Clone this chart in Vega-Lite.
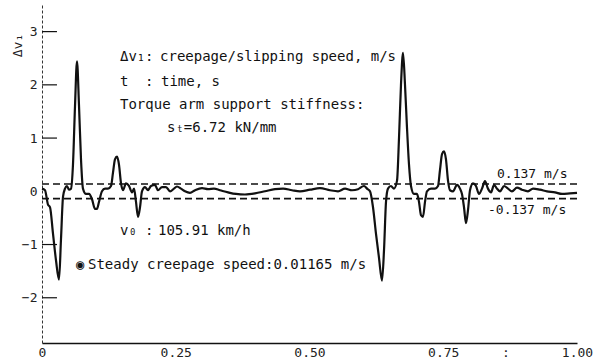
{
  "$schema": "https://vega.github.io/schema/vega-lite/v6.json",
  "autosize": {"type": "none"},
  "padding": {"left": 42, "top": 5, "right": 17, "bottom": 21},
  "width": 535,
  "height": 338,
  "background": "white",
  "config": {"view": {"stroke": null}},
  "datasets": {
    "curve": [
      {"t": 0, "dv": 0.05}, {"t": 0.0056, "dv": 0.02}, {"t": 0.0112, "dv": -0.25}, {"t": 0.015, "dv": -0.3},
      {"t": 0.0206, "dv": -0.8}, {"t": 0.0262, "dv": -1.3}, {"t": 0.0318, "dv": -1.66}, {"t": 0.0355, "dv": -0.9},
      {"t": 0.0393, "dv": -0.1}, {"t": 0.043, "dv": 0.05}, {"t": 0.0467, "dv": 0.1}, {"t": 0.0505, "dv": 0.03},
      {"t": 0.0542, "dv": 0.05}, {"t": 0.0579, "dv": 0.5}, {"t": 0.0617, "dv": 1.6}, {"t": 0.0654, "dv": 2.44},
      {"t": 0.0692, "dv": 1.6}, {"t": 0.0729, "dv": 0.6}, {"t": 0.0766, "dv": 0.05}, {"t": 0.0822, "dv": -0.05},
      {"t": 0.0879, "dv": -0.05}, {"t": 0.0935, "dv": -0.15}, {"t": 0.0991, "dv": -0.33}, {"t": 0.1028, "dv": -0.33},
      {"t": 0.1065, "dv": -0.2}, {"t": 0.1121, "dv": 0.0}, {"t": 0.1178, "dv": 0.05}, {"t": 0.1234, "dv": 0.05},
      {"t": 0.129, "dv": 0.1}, {"t": 0.1327, "dv": 0.35}, {"t": 0.1364, "dv": 0.6}, {"t": 0.1402, "dv": 0.65},
      {"t": 0.1439, "dv": 0.5}, {"t": 0.1477, "dv": 0.15}, {"t": 0.1514, "dv": 0.02}, {"t": 0.157, "dv": 0.15},
      {"t": 0.1626, "dv": 0.1}, {"t": 0.1682, "dv": -0.02}, {"t": 0.172, "dv": 0.05}, {"t": 0.1757, "dv": -0.2},
      {"t": 0.1794, "dv": -0.48}, {"t": 0.1832, "dv": -0.3}, {"t": 0.1869, "dv": 0.0}, {"t": 0.1925, "dv": 0.08},
      {"t": 0.1981, "dv": 0.02}, {"t": 0.2037, "dv": 0.1}, {"t": 0.2112, "dv": 0.12}, {"t": 0.2168, "dv": 0.02},
      {"t": 0.2243, "dv": 0.08}, {"t": 0.2318, "dv": 0.08}, {"t": 0.2393, "dv": 0.0}, {"t": 0.2467, "dv": 0.05},
      {"t": 0.2523, "dv": 0.09}, {"t": 0.2598, "dv": 0.05}, {"t": 0.2673, "dv": 0.0}, {"t": 0.2766, "dv": -0.03},
      {"t": 0.286, "dv": 0.02}, {"t": 0.2991, "dv": 0.06}, {"t": 0.3103, "dv": 0.04}, {"t": 0.3215, "dv": 0.05},
      {"t": 0.3327, "dv": 0.02}, {"t": 0.3477, "dv": -0.02}, {"t": 0.3626, "dv": -0.05}, {"t": 0.3794, "dv": -0.06},
      {"t": 0.3981, "dv": -0.04}, {"t": 0.4168, "dv": 0.0}, {"t": 0.4355, "dv": 0.04}, {"t": 0.4505, "dv": 0.05},
      {"t": 0.4673, "dv": 0.02}, {"t": 0.4822, "dv": 0.0}, {"t": 0.5009, "dv": 0.03}, {"t": 0.5196, "dv": 0.06},
      {"t": 0.5383, "dv": 0.02}, {"t": 0.5533, "dv": 0.0}, {"t": 0.5664, "dv": 0.05}, {"t": 0.5794, "dv": 0.02},
      {"t": 0.5907, "dv": 0.04}, {"t": 0.6019, "dv": 0.1}, {"t": 0.6075, "dv": 0.05}, {"t": 0.6131, "dv": 0.0},
      {"t": 0.6187, "dv": -0.3}, {"t": 0.6243, "dv": -0.8}, {"t": 0.6299, "dv": -1.25}, {"t": 0.6355, "dv": -1.68},
      {"t": 0.6393, "dv": -1.1}, {"t": 0.643, "dv": -0.2}, {"t": 0.6467, "dv": 0.05}, {"t": 0.6523, "dv": 0.1},
      {"t": 0.6579, "dv": 0.05}, {"t": 0.6636, "dv": 0.2}, {"t": 0.6673, "dv": 1.0}, {"t": 0.671, "dv": 2.0},
      {"t": 0.6748, "dv": 2.6}, {"t": 0.6785, "dv": 2.0}, {"t": 0.6822, "dv": 1.2}, {"t": 0.686, "dv": 0.5},
      {"t": 0.6897, "dv": 0.1}, {"t": 0.6953, "dv": -0.05}, {"t": 0.7009, "dv": -0.05}, {"t": 0.7047, "dv": -0.2},
      {"t": 0.7084, "dv": -0.45}, {"t": 0.7121, "dv": -0.48}, {"t": 0.7159, "dv": -0.2}, {"t": 0.7196, "dv": 0.0},
      {"t": 0.7271, "dv": 0.05}, {"t": 0.7346, "dv": 0.05}, {"t": 0.7402, "dv": 0.1}, {"t": 0.7439, "dv": 0.4},
      {"t": 0.7477, "dv": 0.7}, {"t": 0.7514, "dv": 0.75}, {"t": 0.7551, "dv": 0.6}, {"t": 0.7589, "dv": 0.2},
      {"t": 0.7626, "dv": 0.02}, {"t": 0.7682, "dv": 0.0}, {"t": 0.7757, "dv": 0.12}, {"t": 0.7813, "dv": 0.05},
      {"t": 0.785, "dv": -0.05}, {"t": 0.7888, "dv": -0.3}, {"t": 0.7925, "dv": -0.6}, {"t": 0.7963, "dv": -0.35},
      {"t": 0.8, "dv": 0.02}, {"t": 0.8056, "dv": 0.15}, {"t": 0.8112, "dv": 0.1}, {"t": 0.8168, "dv": -0.05},
      {"t": 0.8224, "dv": 0.05}, {"t": 0.828, "dv": 0.19}, {"t": 0.8336, "dv": 0.05}, {"t": 0.8393, "dv": -0.02},
      {"t": 0.8449, "dv": 0.12}, {"t": 0.8505, "dv": 0.05}, {"t": 0.8561, "dv": 0.0}, {"t": 0.8636, "dv": 0.1},
      {"t": 0.871, "dv": 0.05}, {"t": 0.8785, "dv": 0.0}, {"t": 0.8879, "dv": 0.07}, {"t": 0.8972, "dv": 0.03},
      {"t": 0.9084, "dv": 0.0}, {"t": 0.9178, "dv": 0.05}, {"t": 0.9308, "dv": 0.03}, {"t": 0.9439, "dv": 0.0},
      {"t": 0.9589, "dv": -0.02}, {"t": 0.972, "dv": -0.05}, {"t": 0.9869, "dv": -0.04}, {"t": 1.0, "dv": -0.03}
    ],
    "notes": [
      {"x": 0.1458, "y": 2.53, "label": "Δv₁"},
      {"x": 0.1925, "y": 2.53, "label": ":"},
      {"x": 0.2206, "y": 2.53, "label": "creepage/slipping speed, m/s"},
      {"x": 0.1458, "y": 2.06, "label": "t"},
      {"x": 0.1925, "y": 2.06, "label": ":"},
      {"x": 0.2224, "y": 2.06, "label": "time, s"},
      {"x": 0.1458, "y": 1.63, "label": "Torque arm support stiffness:"},
      {"x": 0.2336, "y": 1.195, "label": "sₜ=6.72 kN/mm"},
      {"x": 0.1458, "y": -0.75, "label": "v₀"},
      {"x": 0.1925, "y": -0.75, "label": ":"},
      {"x": 0.2168, "y": -0.75, "label": "105.91 km/h"},
      {"x": 0.0636, "y": -1.38, "label": "◉"},
      {"x": 0.0860, "y": -1.38, "label": "Steady creepage speed:0.01165 m/s"}
    ],
    "bands": [
      {"level": 0.137, "label": "0.137 m/s", "lx": 0.8505, "ly": 0.33},
      {"level": -0.137, "label": "-0.137 m/s", "lx": 0.8336, "ly": -0.35}
    ],
    "yticks": [{"v": -2}, {"v": -1}, {"v": 1}, {"v": 2}, {"v": 3}]
  },
  "layer": [
    {
      "mark": {"type": "rule", "color": "#111", "strokeWidth": 1},
      "encoding": {
        "x": {"datum": 0, "type": "quantitative", "scale": {"domain": [0, 1], "nice": false, "zero": false},
          "axis": {"title": null, "values": [0, 0.25, 0.5, 0.75, 0.866, 1],
            "labelExpr": "datum.value == 0 ? '0' : (datum.value > 0.85 && datum.value < 0.9 ? ':' : format(datum.value, '.2f'))",
            "ticks": false, "grid": false, "domainColor": "#111", "domainWidth": 1.5,
            "labelFont": "DejaVu Sans Mono", "labelFontSize": 13, "labelColor": "#222", "labelPadding": 3, "labelFlush": false}},
        "x2": {"datum": 1.025},
        "y": {"datum": 0, "type": "quantitative", "scale": {"domain": [-2.85, 3.5], "nice": false, "zero": false},
          "axis": {"title": "Δv₁", "values": [-2, -1, 0, 1, 2, 3], "format": "d", "grid": false,
            "domainDash": [3, 2], "domainColor": "#333", "domainWidth": 1,
            "ticks": false, "labelPadding": 5,
            "labelFont": "DejaVu Sans Mono", "labelFontSize": 13, "labelColor": "#222",
            "titleFont": "DejaVu Sans Mono", "titleFontSize": 13, "titleFontWeight": "normal", "titleColor": "#222",
            "titleAngle": -90, "titleX": -25, "titleY": 40, "titleAlign": "center", "titleBaseline": "middle"}}
      }
    },
    {
      "data": {"name": "yticks"},
      "mark": {"type": "rule", "color": "#111", "strokeWidth": 1.2},
      "encoding": {
        "x": {"datum": 0, "type": "quantitative"},
        "x2": {"datum": 0.028},
        "y": {"field": "v", "type": "quantitative"}
      }
    },
    {
      "mark": {"type": "point", "shape": "triangle-right", "filled": true, "color": "#111", "size": 18, "opacity": 1},
      "encoding": {"x": {"datum": 1.028, "type": "quantitative"}, "y": {"datum": 0, "type": "quantitative"}}
    },
    {
      "mark": {"type": "point", "shape": "triangle-up", "filled": true, "color": "#111", "size": 40, "opacity": 1},
      "encoding": {"x": {"datum": 0, "type": "quantitative"}, "y": {"datum": 3.37, "type": "quantitative"}}
    },
    {
      "mark": {"type": "point", "shape": "triangle-down", "filled": true, "color": "#111", "size": 40, "opacity": 1},
      "encoding": {"x": {"datum": 0, "type": "quantitative"}, "y": {"datum": -2.28, "type": "quantitative"}}
    },
    {
      "data": {"name": "bands"},
      "mark": {"type": "rule", "color": "#111", "strokeWidth": 1.6, "strokeDash": [7, 4]},
      "encoding": {
        "x": {"datum": 0, "type": "quantitative"},
        "x2": {"datum": 1.0},
        "y": {"field": "level", "type": "quantitative"}
      }
    },
    {
      "data": {"name": "bands"},
      "mark": {"type": "text", "align": "left", "baseline": "middle", "font": "DejaVu Sans Mono", "fontSize": 13, "color": "#111"},
      "encoding": {
        "x": {"field": "lx", "type": "quantitative"},
        "y": {"field": "ly", "type": "quantitative"},
        "text": {"field": "label"}
      }
    },
    {
      "data": {"name": "curve"},
      "mark": {"type": "line", "color": "#111", "strokeWidth": 2.2, "interpolate": "monotone"},
      "encoding": {
        "x": {"field": "t", "type": "quantitative"},
        "y": {"field": "dv", "type": "quantitative"}
      }
    },
    {
      "data": {"name": "notes"},
      "mark": {"type": "text", "align": "left", "baseline": "middle", "font": "DejaVu Sans Mono", "fontSize": 14, "color": "#111"},
      "encoding": {
        "x": {"field": "x", "type": "quantitative"},
        "y": {"field": "y", "type": "quantitative"},
        "text": {"field": "label"}
      }
    }
  ]
}
